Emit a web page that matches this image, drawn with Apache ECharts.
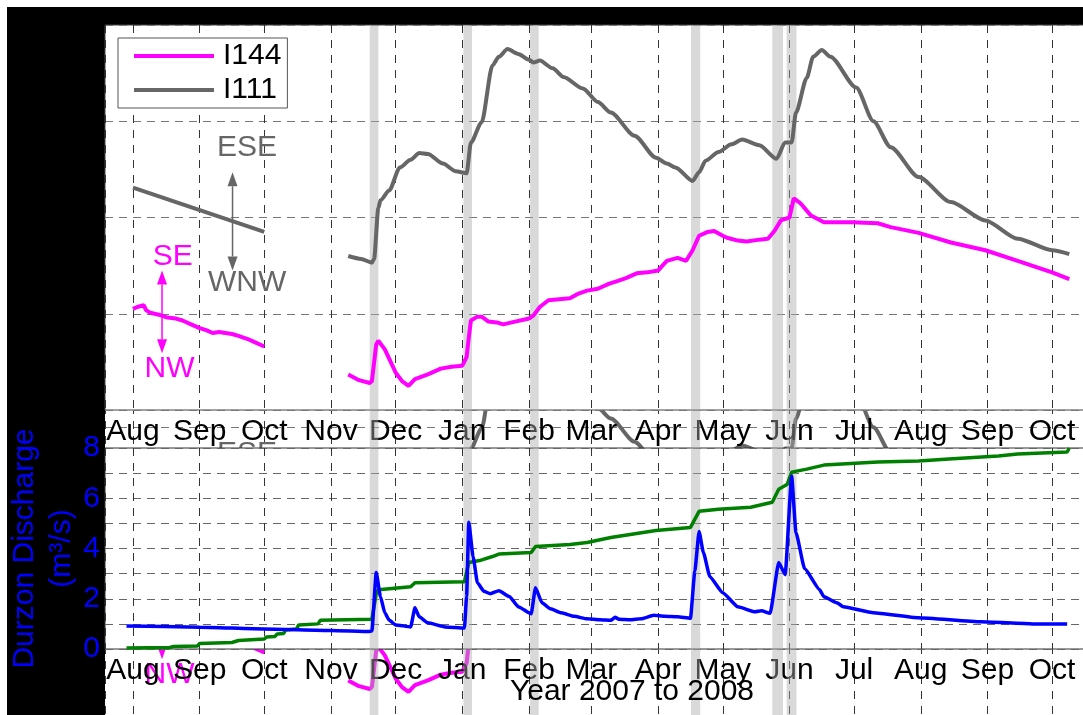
<!DOCTYPE html>
<html>
<head>
<meta charset="utf-8">
<script src="https://cdn.jsdelivr.net/npm/echarts@6/dist/echarts.min.js"></script>
<style>
html, body { margin: 0; padding: 0; background: linear-gradient(to right, #ffffff, #fdf3e2); }
#frame { position: absolute; left: 7px; top: 7px; width: 1076px; height: 708px; background: #000; }
#paper { position: absolute; left: 105px; top: 25px; width: 978px; height: 690px; background: #fff; }
#main { position: absolute; left: 0; top: 0; width: 1083px; height: 715px; }
</style>
</head>
<body>
<div id="frame"></div>
<div id="paper"></div>
<div id="main"></div>
<script>
var monthNames = ['Jan', 'Feb', 'Mar', 'Apr', 'May', 'Jun', 'Jul', 'Aug', 'Sep', 'Oct', 'Nov', 'Dec'];

// I111 (grey) orientation, before and after the gap
var i111A = [['2007-08-01', 2.31], ['2007-10-01', 1.85]];
var i111B = [
	['2007-11-09', 1.60], ['2007-11-15', 1.57], ['2007-11-20', 1.53], ['2007-11-21', 1.57], ['2007-11-23', 2.10],
	['2007-11-24', 2.18], ['2007-11-28', 2.28], ['2007-12-03', 2.52], ['2007-12-08', 2.60], ['2007-12-12', 2.67],
	['2007-12-16', 2.66], ['2007-12-23', 2.56], ['2007-12-29', 2.48], ['2008-01-03', 2.46], ['2008-01-05', 2.78],
	['2008-01-10', 2.99], ['2008-01-15', 3.58], ['2008-01-18', 3.67], ['2008-01-22', 3.75], ['2008-01-27', 3.70],
	['2008-02-01', 3.64], ['2008-02-03', 3.61], ['2008-02-06', 3.63], ['2008-02-12', 3.55], ['2008-02-17', 3.46],
	['2008-02-26', 3.34], ['2008-03-04', 3.20], ['2008-03-10', 3.09], ['2008-03-21', 2.85], ['2008-03-31', 2.62],
	['2008-04-05', 2.56], ['2008-04-09', 2.52], ['2008-04-17', 2.38], ['2008-04-20', 2.47], ['2008-04-23', 2.59],
	['2008-04-29', 2.68], ['2008-05-05', 2.76], ['2008-05-10', 2.81], ['2008-05-18', 2.75], ['2008-05-26', 2.61],
	['2008-05-30', 2.78], ['2008-06-02', 2.78], ['2008-06-04', 3.09], ['2008-06-09', 3.45], ['2008-06-12', 3.67],
	['2008-06-16', 3.74], ['2008-06-20', 3.67], ['2008-07-02', 3.35], ['2008-07-10', 3.00], ['2008-07-18', 2.73],
	['2008-07-31', 2.42], ['2008-08-15', 2.16], ['2008-08-31', 1.97], ['2008-09-15', 1.78], ['2008-10-01', 1.66],
	['2008-10-09', 1.62]
];

// I144 (magenta) orientation
var i144A = [
	['2007-08-01', 1.05], ['2007-08-03', 1.07], ['2007-08-06', 1.09], ['2007-08-07', 1.04], ['2007-08-09', 1.01],
	['2007-08-13', 0.99], ['2007-08-17', 0.96], ['2007-08-21', 0.95], ['2007-08-24', 0.93], ['2007-08-28', 0.89],
	['2007-09-01', 0.85], ['2007-09-04', 0.83], ['2007-09-07', 0.80], ['2007-09-10', 0.81], ['2007-09-13', 0.80],
	['2007-09-16', 0.79], ['2007-09-19', 0.77], ['2007-09-23', 0.74], ['2007-09-26', 0.71], ['2007-10-01', 0.66]
];
var i144B = [
	['2007-11-09', 0.37], ['2007-11-14', 0.31], ['2007-11-19', 0.28], ['2007-11-20', 0.30], ['2007-11-22', 0.68],
	['2007-11-23', 0.72], ['2007-11-26', 0.63], ['2007-12-01', 0.39], ['2007-12-04', 0.30], ['2007-12-07', 0.25],
	['2007-12-10', 0.32], ['2007-12-16', 0.37], ['2007-12-22', 0.43], ['2007-12-27', 0.45], ['2008-01-01', 0.46],
	['2008-01-03', 0.55], ['2008-01-04', 0.75], ['2008-01-05', 0.93], ['2008-01-08', 0.97], ['2008-01-10', 0.97],
	['2008-01-13', 0.92], ['2008-01-17', 0.91], ['2008-01-20', 0.89], ['2008-01-24', 0.91], ['2008-02-01', 0.95],
	['2008-02-03', 0.98], ['2008-02-06', 1.07], ['2008-02-10', 1.14], ['2008-02-15', 1.15], ['2008-02-20', 1.16],
	['2008-02-24', 1.21], ['2008-02-28', 1.24], ['2008-03-04', 1.26], ['2008-03-09', 1.31], ['2008-03-13', 1.34],
	['2008-03-17', 1.37], ['2008-03-22', 1.42], ['2008-03-27', 1.43], ['2008-04-01', 1.45], ['2008-04-05', 1.55],
	['2008-04-10', 1.58], ['2008-04-14', 1.55], ['2008-04-17', 1.66], ['2008-04-20', 1.81], ['2008-04-24', 1.85],
	['2008-04-27', 1.86], ['2008-05-01', 1.81], ['2008-05-03', 1.79], ['2008-05-08', 1.76], ['2008-05-12', 1.75],
	['2008-05-18', 1.77], ['2008-05-22', 1.78], ['2008-05-25', 1.86], ['2008-05-28', 1.97], ['2008-06-01', 2.00],
	['2008-06-03', 2.20], ['2008-06-06', 2.15], ['2008-06-11', 2.02], ['2008-06-17', 1.95], ['2008-06-30', 1.95],
	['2008-07-12', 1.94], ['2008-07-18', 1.90], ['2008-07-31', 1.84], ['2008-08-15', 1.74], ['2008-08-31', 1.66],
	['2008-09-15', 1.55], ['2008-10-01', 1.43], ['2008-10-09', 1.36]
];

// Durzon discharge (m3/s)
var discharge = [
	['2007-07-29', 0.92], ['2007-09-01', 0.87], ['2007-10-01', 0.80], ['2007-11-01', 0.74], ['2007-11-19', 0.70],
	['2007-11-20', 0.72], ['2007-11-22', 3.04], ['2007-11-24', 2.08], ['2007-11-26', 1.44], ['2007-11-28', 1.15],
	['2007-12-01', 0.96], ['2007-12-08', 0.88], ['2007-12-10', 1.64], ['2007-12-12', 1.28], ['2007-12-16', 1.04],
	['2007-12-24', 0.88], ['2008-01-02', 0.84], ['2008-01-03', 2.10], ['2008-01-04', 5.04], ['2008-01-06', 3.68],
	['2008-01-08', 2.64], ['2008-01-11', 2.30], ['2008-01-14', 2.20], ['2008-01-18', 2.32], ['2008-01-23', 2.08],
	['2008-01-27', 1.68], ['2008-02-02', 1.40], ['2008-02-04', 2.44], ['2008-02-07', 1.84], ['2008-02-11', 1.60],
	['2008-02-16', 1.44], ['2008-02-22', 1.30], ['2008-02-28', 1.20], ['2008-03-05', 1.16], ['2008-03-10', 1.14],
	['2008-03-12', 1.26], ['2008-03-14', 1.18], ['2008-03-19', 1.16], ['2008-03-24', 1.20], ['2008-03-30', 1.34],
	['2008-04-04', 1.30], ['2008-04-10', 1.28], ['2008-04-16', 1.22], ['2008-04-18', 3.08], ['2008-04-20', 4.68],
	['2008-04-22', 3.84], ['2008-04-25', 2.88], ['2008-05-01', 2.24], ['2008-05-08', 1.68], ['2008-05-16', 1.48],
	['2008-05-19', 1.52], ['2008-05-23', 1.42], ['2008-05-27', 3.44], ['2008-05-30', 2.96], ['2008-06-02', 6.88],
	['2008-06-04', 4.64], ['2008-06-08', 3.20], ['2008-06-15', 2.36], ['2008-06-17', 2.08], ['2008-06-23', 1.84],
	['2008-06-26', 1.68], ['2008-07-10', 1.44], ['2008-07-31', 1.24], ['2008-08-29', 1.08], ['2008-09-22', 1.00],
	['2008-10-08', 1.00]
];

// cumulative curve (green)
var cumulative = [
	['2007-07-29', 0.04], ['2007-08-18', 0.06], ['2007-08-20', 0.10], ['2007-08-31', 0.12], ['2007-09-01', 0.22],
	['2007-09-16', 0.26], ['2007-09-19', 0.34], ['2007-10-01', 0.40], ['2007-10-02', 0.48], ['2007-10-06', 0.50],
	['2007-10-07', 0.60], ['2007-10-10', 0.62], ['2007-10-11', 0.76], ['2007-10-16', 0.80], ['2007-10-17', 0.96],
	['2007-10-26', 1.00], ['2007-10-27', 1.14], ['2007-11-20', 1.18], ['2007-11-22', 2.20], ['2007-11-23', 2.36],
	['2007-12-03', 2.44], ['2007-12-08', 2.48], ['2007-12-10', 2.64], ['2008-01-02', 2.68], ['2008-01-04', 3.44],
	['2008-01-09', 3.52], ['2008-01-15', 3.68], ['2008-01-18', 3.78], ['2008-02-02', 3.84], ['2008-02-04', 4.08],
	['2008-02-20', 4.16], ['2008-02-28', 4.24], ['2008-03-10', 4.44], ['2008-03-31', 4.72], ['2008-04-16', 4.84],
	['2008-04-18', 5.16], ['2008-04-20', 5.48], ['2008-04-29', 5.56], ['2008-05-14', 5.64], ['2008-05-24', 5.84],
	['2008-05-27', 6.36], ['2008-05-31', 6.56], ['2008-06-02', 7.04], ['2008-06-09', 7.16], ['2008-06-17', 7.32],
	['2008-07-12', 7.44], ['2008-07-31', 7.48], ['2008-08-14', 7.56], ['2008-09-06', 7.68], ['2008-09-15', 7.76],
	['2008-10-08', 7.84], ['2008-10-09', 8.00]
];

// flood events (grey bands)
var events = [
	['2007-11-19', '2007-11-23'], ['2008-01-01 12:00', '2008-01-05 12:00'], ['2008-02-01 12:00', '2008-02-05 12:00'],
	['2008-04-16 06:00', '2008-04-20 12:00'], ['2008-05-24', '2008-05-29'], ['2008-05-30 16:00', '2008-06-04 06:00']
];

// direction labels on the orientation panel
var notes = [
	['ESE', '2007-09-23', 2.72, '#666666'], ['WNW', '2007-09-23', 1.32, '#666666'],
	['SE', '2007-08-19 12:00', 1.59, '#ff00ff'], ['NW', '2007-08-18', 0.43, '#ff00ff']
];
var arrows = [
	['2007-09-16 06:00', 2.47, 1.45, '#666666'], ['2007-08-14 12:00', 1.45, 0.59, '#ff00ff']
];

var FONT = '"Liberation Sans", Arial, sans-serif';
var DAY = 86400000;
var xMin = echarts.time.parse('2007-07-19');
var xMax = echarts.time.parse('2008-10-16 07:00');

var gap = [['2007-10-20', '-']];
var i111 = i111A.concat(gap, i111B);
var i144 = i144A.concat(gap, i144B);

function xAxisFor(grid, zlevel, labels) {
	return {
		type: 'time', gridIndex: grid, min: xMin, max: xMax, zlevel: zlevel,
		minInterval: 28 * DAY, maxInterval: 31 * DAY,
		axisLine: { show: false }, axisTick: { show: false },
		splitLine: { show: true, lineStyle: { color: '#333', width: 1, type: [8, 7] } },
		axisLabel: {
			show: labels, showMinLabel: false, showMaxLabel: false, margin: 7,
			color: '#000', fontSize: 30, fontFamily: FONT,
			formatter: function (v) { return monthNames[new Date(v).getMonth()]; }
		}
	};
}

function yAxisFor(grid, zlevel, max) {
	return {
		type: 'value', gridIndex: grid, min: 0, max: max, interval: 1, zlevel: zlevel,
		axisLine: { show: false }, axisTick: { show: false }, axisLabel: { show: false },
		splitLine: { show: true, lineStyle: { color: '#777', width: 1, type: [8, 6] } }
	};
}

function lineSeries(name, data, color, width, axis, zlevel, smooth) {
	return {
		name: name, type: 'line', data: data, xAxisIndex: axis, yAxisIndex: axis, zlevel: zlevel,
		symbol: 'none', smooth: smooth || false, smoothMonotone: 'x', silent: true,
		lineStyle: { color: color, width: width }, itemStyle: { color: color }
	};
}

var bottomY = yAxisFor(1, 1, 8);
bottomY.axisLabel = {
	show: true, color: '#0000ff', fontSize: 30, fontFamily: FONT, margin: 5,
	formatter: function (v) { return v % 2 === 0 ? String(v) : ''; }
};
bottomY.splitLine.lineStyle.color = '#666';
bottomY.name = 'Durzon Discharge\n(m\u00b3/s)';
bottomY.nameLocation = 'middle';
bottomY.nameRotate = 90;
bottomY.nameGap = 25;
bottomY.nameMoveOverlap = false;
bottomY.nameTextStyle = { color: '#0000ff', fontSize: 30, fontFamily: FONT, lineHeight: 37 };

var chart = echarts.init(document.getElementById('main'));
chart.setOption({
	animation: false,
	grid: [
		{ left: 105, top: 25, width: 980, height: 385, show: true, backgroundColor: '#fff', borderColor: '#444', borderWidth: 1, zlevel: 1, outerBoundsMode: 'none' },
		{ left: 105, top: 448, width: 980, height: 201, show: true, backgroundColor: '#fff', borderColor: '#333', borderWidth: 1, zlevel: 1, outerBoundsMode: 'none' },
		// copy of the orientation panel sitting under the discharge panel
		{ left: 105, top: 331, width: 980, height: 385, show: false, zlevel: 0, outerBoundsMode: 'none' }
	],
	legend: {
		data: ['I144', 'I111'], orient: 'vertical', left: 118, top: 38, zlevel: 1,
		backgroundColor: '#fff', borderColor: '#555', borderWidth: 1, borderRadius: 0,
		padding: [2, 6, 2, 16], itemWidth: 80, itemHeight: 4, itemGap: 2, icon: 'rect',
		textStyle: { fontSize: 30, fontFamily: FONT, color: '#000', lineHeight: 32, padding: [0, 0, 0, 4] }
	},
	xAxis: [xAxisFor(0, 1, true), xAxisFor(1, 1, true), xAxisFor(2, 0, false)],
	yAxis: [yAxisFor(0, 1, 4), bottomY, yAxisFor(2, 0, 4)],
	series: [
		lineSeries('I144', i144, '#ff00ff', 4, 0, 1),
		lineSeries('I111', i111, '#666666', 4, 0, 1, 0.25),
		lineSeries('Cumulative', cumulative, '#008000', 3.5, 1, 1),
		lineSeries('Discharge', discharge, '#0000ff', 3.5, 1, 1, 0.15),
		lineSeries('I144 copy', i144, '#ff00ff', 4, 2, 0),
		lineSeries('I111 copy', i111, '#666666', 4, 2, 0, 0.25)
	]
});

// bands, arrows and labels placed through the axes
function pt(grid, date, v) {
	return chart.convertToPixel({ gridIndex: grid }, [echarts.time.parse(date), v]);
}

var graphics = [];
events.forEach(function (ev) {
	var x1 = chart.convertToPixel({ xAxisIndex: 0 }, echarts.time.parse(ev[0]));
	var x2 = chart.convertToPixel({ xAxisIndex: 0 }, echarts.time.parse(ev[1]));
	graphics.push({
		type: 'rect', zlevel: 1, z: 1, silent: true,
		shape: { x: x1, y: 25, width: x2 - x1, height: 690 },
		style: { fill: 'rgba(170,170,170,0.45)' }
	});
});

[[0, 1], [2, 0]].forEach(function (layer) {
	var grid = layer[0], zl = layer[1];
	notes.forEach(function (n) {
		var p = pt(grid, n[1], n[2]);
		graphics.push({
			type: 'text', zlevel: zl, z: 5, x: p[0], y: p[1], silent: true,
			style: { text: n[0], fill: n[3], fontSize: 30, fontFamily: FONT, align: 'center', verticalAlign: 'middle' }
		});
	});
	arrows.forEach(function (a) {
		var p1 = pt(grid, a[0], a[1]), p2 = pt(grid, a[0], a[2]);
		var x = p1[0], h = 14, w = 5;
		graphics.push(
			{ type: 'line', zlevel: zl, z: 5, silent: true, shape: { x1: x, y1: p1[1] + h, x2: x, y2: p2[1] - h }, style: { stroke: a[3], lineWidth: 1.5 } },
			{ type: 'polygon', zlevel: zl, z: 5, silent: true, shape: { points: [[x, p1[1]], [x - w, p1[1] + h], [x + w, p1[1] + h]] }, style: { fill: a[3] } },
			{ type: 'polygon', zlevel: zl, z: 5, silent: true, shape: { points: [[x, p2[1]], [x - w, p2[1] - h], [x + w, p2[1] - h]] }, style: { fill: a[3] } }
		);
	});
});

graphics.push({
	type: 'text', zlevel: 1, z: 5, x: 632, y: 692, silent: true,
	style: { text: 'Year 2007 to 2008', fill: '#000', fontSize: 30, fontFamily: FONT, align: 'center', verticalAlign: 'middle' }
});

chart.setOption({ graphic: graphics });
</script>
</body>
</html>
